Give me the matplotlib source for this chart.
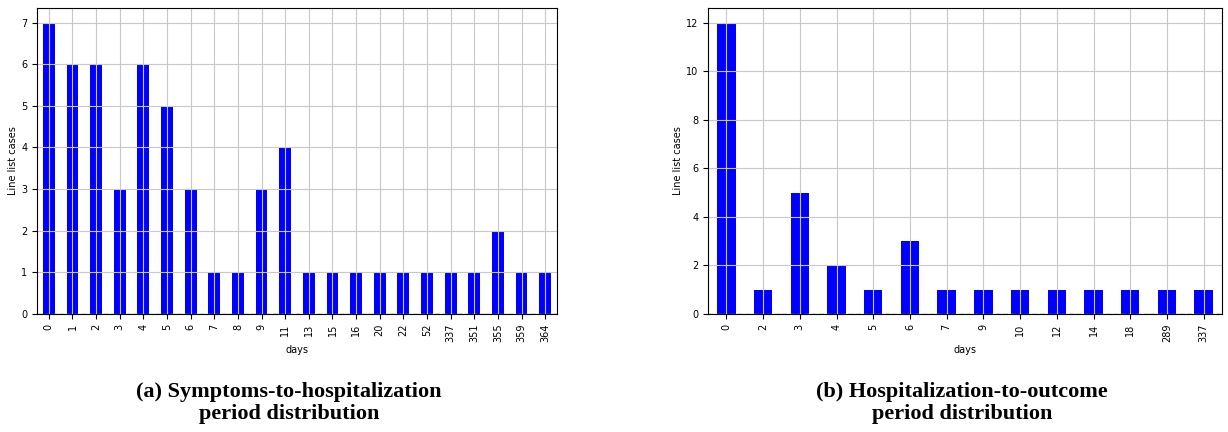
import matplotlib
matplotlib.use("Agg")
import matplotlib.pyplot as plt
import numpy as np

# Symptoms-to-hospitalization period (days) and case counts
sym_days = ["0", "1", "2", "3", "4", "5", "6", "7", "8", "9", "11", "13", "15",
            "16", "20", "22", "52", "337", "351", "355", "359", "364"]
sym_cases = [7, 6, 6, 3, 6, 5, 3, 1, 1, 3, 4, 1, 1, 1, 1, 1, 1, 1, 1, 2, 1, 1]

# Hospitalization-to-outcome period (days) and case counts
out_days = ["0", "2", "3", "4", "5", "6", "7", "9", "10", "12", "14", "18",
            "289", "337"]
out_cases = [12, 1, 5, 2, 1, 3, 1, 1, 1, 1, 1, 1, 1, 1]

captions = ["(a) Symptoms-to-hospitalization\nperiod distribution",
            "(b) Hospitalization-to-outcome\nperiod distribution"]

plt.rcParams["font.family"] = "DejaVu Sans"

fig = plt.figure(figsize=(12.28, 4.32), dpi=100)
W, H = 1228, 432


def draw(ax, labels, values):
    x = np.arange(len(labels))
    ax.bar(x, values, width=0.5, color="blue", zorder=1)
    ax.set_xlim(-0.5, len(labels) - 0.5)
    ax.set_ylim(0, max(values) * 1.05)
    ax.set_xticks(x)
    ax.set_xticklabels(labels, rotation=90, fontsize=7)
    ax.tick_params(axis="y", labelsize=7)
    ax.grid(True, color="#c8c8c8", linewidth=0.8)
    ax.set_axisbelow("line")
    ax.axhline(0, color="grey", linestyle="--", linewidth=1.0, zorder=2)
    ax.set_xlabel("days", fontsize=7, labelpad=2)
    ax.set_ylabel("Line list cases", fontsize=7, labelpad=2)


ax1 = fig.add_axes([37 / W, (H - 314) / H, 520 / W, 306 / H])
draw(ax1, sym_days, sym_cases)

ax2 = fig.add_axes([708 / W, (H - 314) / H, 514 / W, 306 / H])
draw(ax2, out_days, out_cases)

for xc, cap in zip([289 / W, 962 / W], captions):
    fig.text(xc, (H - 403) / H, cap, ha="center", va="center",
             fontsize=16, fontweight="bold", family="Liberation Serif",
             linespacing=1.12)

fig.savefig("out.png", dpi=100)
